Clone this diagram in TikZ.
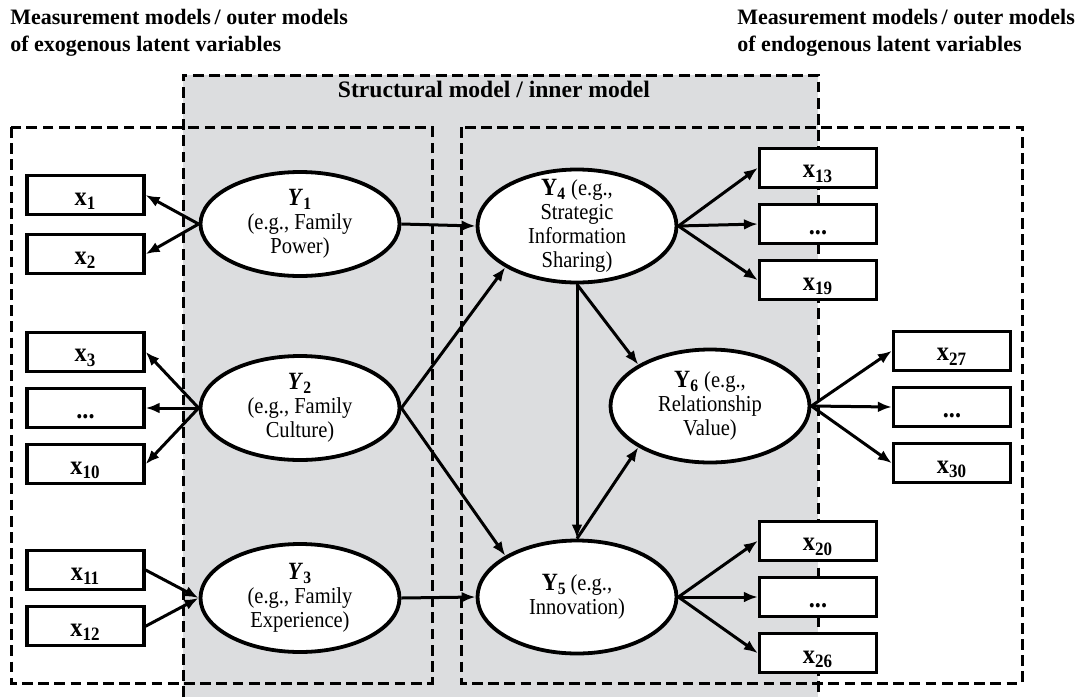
\documentclass[tikz,border=0pt]{standalone}
\usepackage{fontspec}
\setmainfont{Liberation Serif}
\newfontfamily\narrowserif[FakeStretch=0.9]{Liberation Serif}
\usetikzlibrary{shapes.geometric,arrows.meta}

\definecolor{innergray}{RGB}{220,221,223}
\newcommand{\ellfont}{\narrowserif\fontsize{11.4}{12}\selectfont}
\newcommand{\headfont}{\fontsize{11}{13.5}\selectfont\bfseries}
\newcommand{\obsx}[1]{x\textsubscript{#1}}
\newcommand{\latname}[1]{{\fontsize{12.4}{12}\selectfont\textbf{#1}}}

\begin{document}
\begin{tikzpicture}[x=0.5pt,y=-0.5pt,
  latent/.style={draw,ellipse,line width=1.9pt,fill=white,inner sep=0pt,minimum width=99.5pt,minimum height=52pt},
  latentbig/.style={latent,minimum height=56.5pt},
  ytext/.style={align=center,font=\ellfont,inner sep=0pt},
  obsbox/.style={draw,rectangle,line width=1.6pt,fill=white,inner sep=0pt,minimum width=58.5pt,minimum height=19.5pt,
    text height=10pt,text depth=0pt,font=\narrowserif\fontsize{13.5}{12}\selectfont\bfseries},
  modelbox/.style={line width=1.5pt,dash pattern=on 5.4pt off 2.7pt},
  link/.style={-{Latex[length=7pt,width=5.4pt]},line width=1.5pt}]
  \useasboundingbox (0,0) rectangle (1081,697);
  % structural model in the middle
  \fill[innergray] (183,75) rectangle (818,697);
  \draw[modelbox] (11,127) rectangle (432,683);
  \draw[modelbox] (461,127) rectangle (1022,683);
  \draw[modelbox] (183,697) -- (183,75) -- (818,75) -- (818,697);
  \node[anchor=north west,align=left,inner sep=0pt,font=\headfont] at (10,9) (exolabel) {Measurement models\,/ outer models\\of exogenous latent variables};
  \node[anchor=north west,align=left,inner sep=0pt,font=\headfont] at (737,9) (endolabel) {Measurement models\,/ outer models\\of endogenous latent variables};
  \node[anchor=base,inner sep=0pt,font=\fontsize{11.8}{13}\selectfont\bfseries] at (494,97) (structlabel) {Structural model / inner model};
  % latent variables
  \node[latent,label={[name=y1text,ytext]center:{\latname{\textit{Y}\textsubscript{1}}\\(e.g., Family\\Power)}}] at (300,224) (y1) {};
  \node[latent,label={[name=y2text,ytext]center:{\latname{\textit{Y}\textsubscript{2}}\\(e.g., Family\\Culture)}}] at (300,408) (y2) {};
  \node[latent,minimum height=54pt,label={[name=y3text,ytext]center:{\latname{\textit{Y}\textsubscript{3}}\\(e.g., Family\\Experience)}}] at (300,598) (y3) {};
  \node[latentbig,label={[name=y4text,ytext]center:{\latname{Y\textsubscript{4}} (e.g.,\\Strategic\\Information\\Sharing)}}] at (577,226) (y4) {};
  \node[latentbig,label={[name=y5text,ytext]center:{\latname{Y\textsubscript{5}}\,(e.g.,\\Innovation)}}] at (577,597) (y5) {};
  \node[latentbig,label={[name=y6text,ytext]center:{\latname{Y\textsubscript{6}} (e.g.,\\Relationship\\Value)}}] at (710,406) (y6) {};
  % indicators, exogenous side
  \node[obsbox] at (85.5,195) (x1) {\obsx{1}};
  \node[obsbox,anchor=north,yshift=-8.5pt] at (x1.south) (x2) {\obsx{2}};
  \node[obsbox] at (85.5,408) (xd1) {...};
  \node[obsbox,anchor=south,yshift=7pt] at (xd1.north) (x3) {\obsx{3}};
  \node[obsbox,anchor=north,yshift=-7pt] at (xd1.south) (x10) {\obsx{10}};
  \node[obsbox] at (85.5,570) (x11) {\obsx{11}};
  \node[obsbox,anchor=north,yshift=-7pt] at (x11.south) (x12) {\obsx{12}};
  % indicators, endogenous side
  \node[obsbox] at (818,224) (xd2) {...};
  \node[obsbox,anchor=south,yshift=7pt] at (xd2.north) (x13) {\obsx{13}};
  \node[obsbox,anchor=north,yshift=-7pt] at (xd2.south) (x19) {\obsx{19}};
  \node[obsbox] at (952,407) (xd4) {...};
  \node[obsbox,anchor=south,yshift=7pt] at (xd4.north) (x27) {\obsx{27}};
  \node[obsbox,anchor=north,yshift=-7pt] at (xd4.south) (x30) {\obsx{30}};
  \node[obsbox] at (818,597) (xd3) {...};
  \node[obsbox,anchor=south,yshift=7pt] at (xd3.north) (x20) {\obsx{20}};
  \node[obsbox,anchor=north,yshift=-7pt] at (xd3.south) (x26) {\obsx{26}};
  % outer model arrows
  \foreach \t in {x1,x2} \draw[link] (y1.west) -- (\t.east);
  \foreach \t in {x3,xd1,x10} \draw[link] (y2.west) -- (\t.east);
  \foreach \s in {x11,x12} \draw[link] (\s.east) -- (y3.west);
  \foreach \t in {x13,xd2,x19} \draw[link] (y4.east) -- (\t.west);
  \foreach \t in {x27,xd4,x30} \draw[link] (y6.east) -- (\t.west);
  \foreach \t in {x20,xd3,x26} \draw[link] (y5.east) -- (\t.west);
  % inner model arrows
  \draw[link] (y1.east) -- (y4.west);
  \draw[link] (y2.east) -- (y4.south west);
  \draw[link] (y2.east) -- (y5.north west);
  \draw[link] (y3.east) -- (y5.west);
  \draw[link] (y4.south) -- (y5.north);
  \draw[link] (y4.south) -- (y6.north west);
  \draw[link] (y5.north) -- (y6.south west);
\end{tikzpicture}
\end{document}
